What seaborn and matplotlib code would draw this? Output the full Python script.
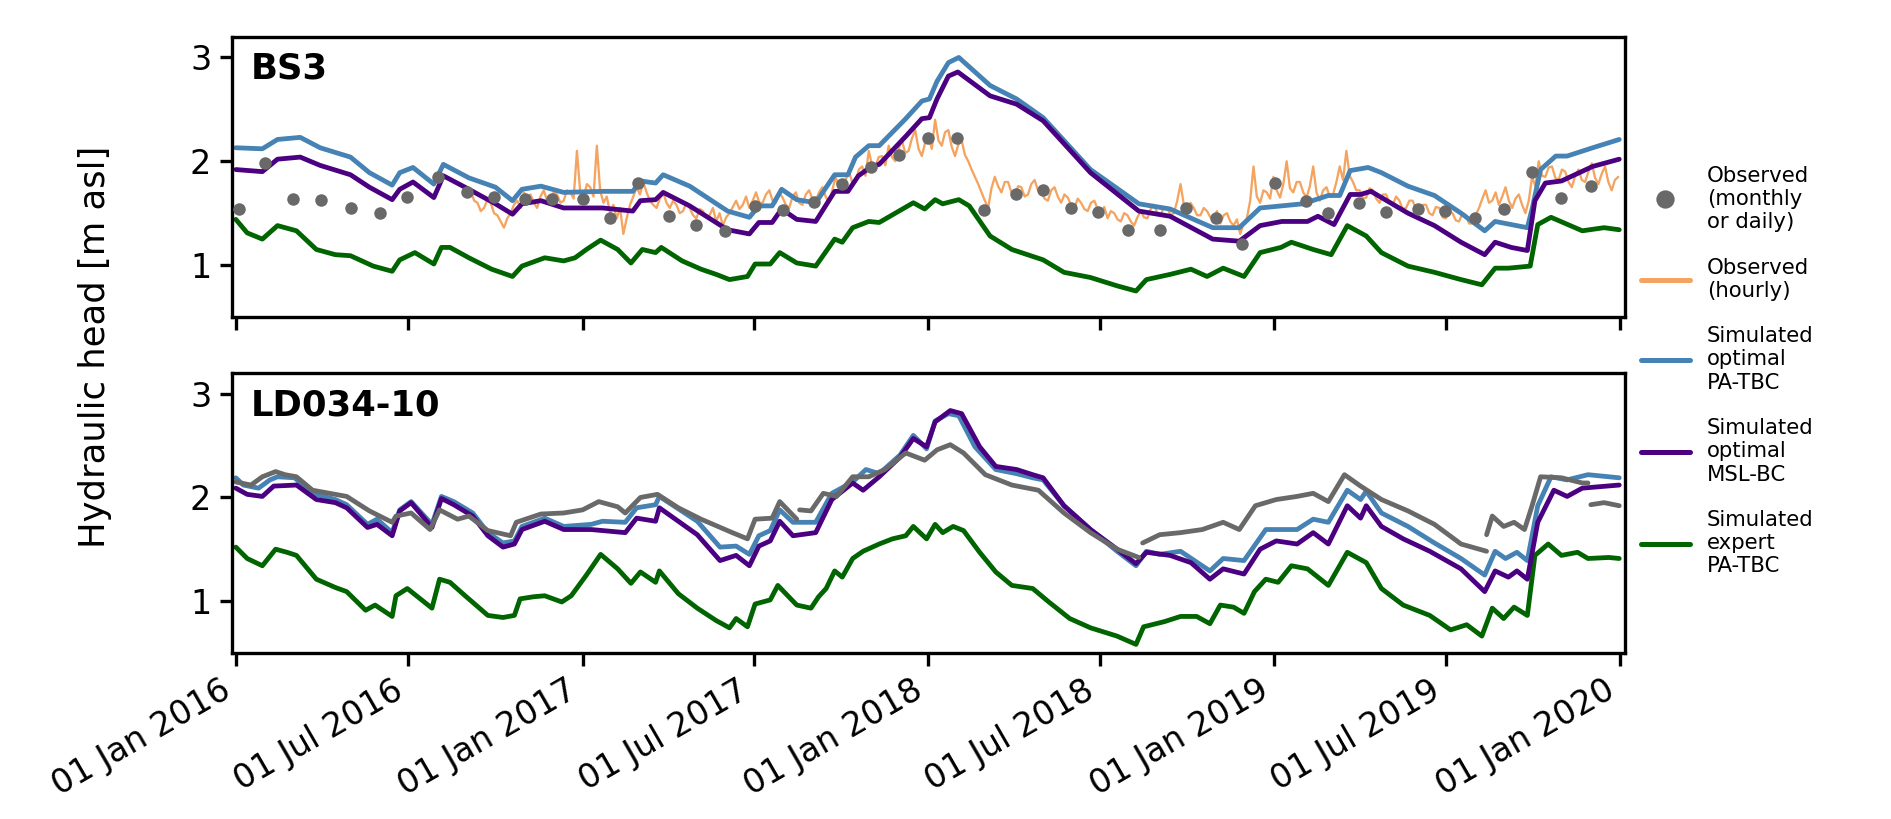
import pandas as pd
import matplotlib
matplotlib.use("Agg")
import matplotlib.pyplot as plt
import matplotlib.dates as mdates
from matplotlib.lines import Line2D
import seaborn as sns

# Day offsets are counted from this date
START = "2016-01-01"

# ---------------- BS3 ----------------
bs3_obs_days = [3, 31, 60, 90, 122, 152, 181, 213, 244, 272, 305, 334, 366, 395, 424, 457,
                486, 516, 548, 577, 610, 640, 670, 700, 731, 761, 790, 823, 852, 881, 910,
                942, 975, 1003, 1034, 1062, 1097, 1129, 1153, 1185, 1214, 1248, 1276, 1308,
                1338, 1368, 1398, 1430]
bs3_obs_head = [1.54, 1.98, 1.64, 1.63, 1.55, 1.50, 1.66, 1.85, 1.70, 1.66, 1.64, 1.64, 1.64,
                1.45, 1.79, 1.47, 1.39, 1.33, 1.57, 1.53, 1.61, 1.78, 1.94, 2.06, 2.22, 2.22,
                1.53, 1.68, 1.72, 1.55, 1.51, 1.34, 1.34, 1.55, 1.45, 1.20, 1.79, 1.62, 1.50,
                1.60, 1.51, 1.54, 1.52, 1.45, 1.54, 1.90, 1.65, 1.76]

# hourly logger record, resampled to 3.5-day values
bs3_hourly_start = "2016-09-05"
bs3_hourly_head = [
    1.72, 1.62, 1.60, 1.52, 1.55, 1.63, 1.60, 1.50, 1.48, 1.42, 1.36, 1.45, 1.50, 1.58,
    1.62, 1.55, 1.70, 1.64, 1.68, 1.60, 1.55, 1.66, 1.72, 1.62, 1.63, 1.70, 1.68, 1.60,
    1.62, 1.72, 1.70, 1.64, 2.10, 1.70, 1.65, 1.78, 1.75, 1.66, 2.15, 1.72, 1.60, 1.66,
    1.50, 1.58, 1.45, 1.55, 1.30, 1.45, 1.58, 1.66, 1.75, 1.68, 1.80, 1.70, 1.62, 1.58,
    1.55, 1.64, 1.70, 1.60, 1.55, 1.62, 1.58, 1.50, 1.52, 1.60, 1.55, 1.48, 1.45, 1.54,
    1.52, 1.46, 1.48, 1.55, 1.42, 1.50, 1.38, 1.46, 1.50, 1.56, 1.62, 1.54, 1.58, 1.66,
    1.55, 1.62, 1.70, 1.60, 1.60, 1.68, 1.72, 1.62, 1.60, 1.70, 1.65, 1.58, 1.55, 1.66,
    1.70, 1.60, 1.58, 1.68, 1.72, 1.64, 1.62, 1.70,
    1.75, 1.66, 1.60, 1.72, 1.85, 1.74, 1.70, 1.82, 1.90, 1.80, 1.80, 1.92, 1.95, 1.86,
    2.10, 1.96, 1.95, 2.04, 2.05, 1.96, 2.15, 2.04, 2.00, 2.12, 2.20, 2.08, 2.10, 2.22,
    2.30, 2.12, 2.05, 2.18, 2.25, 2.12, 2.40, 2.20, 2.15, 2.28, 2.30, 2.14, 2.05, 2.16,
    2.20, 2.06, 2.00, 1.92, 1.85, 1.78, 1.70, 1.62, 1.55, 1.74, 1.85, 1.76, 1.70, 1.80,
    1.80, 1.70, 1.65, 1.76, 1.75, 1.66, 1.68, 1.78, 1.82, 1.72, 1.70, 1.64, 1.62, 1.72,
    1.75, 1.66, 1.60, 1.68, 1.65, 1.58, 1.55, 1.64, 1.60, 1.54, 1.52, 1.60, 1.62, 1.54,
    1.50, 1.56, 1.45, 1.52, 1.50, 1.44, 1.42, 1.50, 1.48, 1.42, 1.38, 1.46, 1.52, 1.46,
    1.45, 1.54, 1.58, 1.50, 1.48, 1.56, 1.55, 1.48, 1.50, 1.62, 1.78, 1.58, 1.52, 1.60,
    1.55, 1.48, 1.48, 1.55, 1.52, 1.46, 1.45, 1.52, 1.40, 1.48, 1.50, 1.42, 1.38, 1.44,
    1.30, 1.40, 1.45, 1.62, 1.95, 1.66, 1.60, 1.72, 1.70, 1.64, 1.85, 1.72, 1.65, 1.78,
    2.00, 1.74, 1.70, 1.80, 1.80, 1.70, 1.65, 1.76, 1.95, 1.70, 1.62, 1.72, 1.75, 1.66,
    1.68, 1.80, 1.95, 1.82, 2.10, 1.86, 1.80, 1.72, 1.72, 1.64, 1.65, 1.74, 1.72, 1.64,
    1.60, 1.68, 1.68, 1.60, 1.58, 1.66, 1.62, 1.54, 1.55, 1.62, 1.62, 1.54, 1.50, 1.58,
    1.58, 1.50, 1.48, 1.56, 1.55, 1.46, 1.45, 1.52, 1.50, 1.43, 1.42, 1.50, 1.48, 1.40,
    1.40, 1.48, 1.55, 1.64, 1.72, 1.60, 1.62, 1.70, 1.58, 1.66, 1.75, 1.62, 1.55, 1.64,
    1.68, 1.58, 1.50, 1.62, 1.85, 1.76, 2.00, 1.86, 1.85, 1.94, 1.95, 1.84, 1.82, 1.92,
    1.90, 1.80, 1.75, 1.86, 1.92, 1.82, 1.80, 1.90, 1.98, 1.84, 1.78, 1.88, 1.95, 1.80,
    1.72, 1.82, 1.85]

bs3_opt_tbc_days = [0, 28, 44, 68, 89, 121, 141, 165, 173, 187, 209, 219, 246, 274, 292, 302,
                    322, 346, 387, 419, 427, 443, 451, 479, 519, 542, 552, 566, 576, 592, 612,
                    632, 646, 654, 668, 679, 707, 724, 732, 740, 752, 763, 796, 824, 852, 902,
                    953, 986, 1031, 1059, 1081, 1126, 1153, 1165, 1176, 1195, 1209, 1237, 1265,
                    1293, 1318, 1329, 1346, 1363, 1368, 1377, 1393, 1405, 1432, 1460]
bs3_opt_tbc_head = [2.13, 2.12, 2.21, 2.23, 2.13, 2.04, 1.89, 1.77, 1.89, 1.94, 1.78, 1.97,
                    1.84, 1.75, 1.62, 1.73, 1.76, 1.70, 1.71, 1.71, 1.81, 1.79, 1.87, 1.76,
                    1.52, 1.46, 1.57, 1.57, 1.73, 1.63, 1.60, 1.87, 1.87, 2.04, 2.15, 2.15,
                    2.41, 2.58, 2.60, 2.77, 2.95, 3.00, 2.73, 2.60, 2.42, 1.92, 1.59, 1.54,
                    1.36, 1.36, 1.55, 1.59, 1.67, 1.67, 1.91, 1.94, 1.89, 1.76, 1.67, 1.50,
                    1.33, 1.42, 1.39, 1.36, 1.54, 1.92, 2.05, 2.05, 2.13, 2.21]

bs3_opt_msl_days = [0, 28, 44, 68, 89, 121, 141, 165, 173, 187, 209, 219, 246, 274, 292, 302,
                    322, 346, 387, 419, 427, 443, 451, 479, 519, 542, 552, 566, 576, 592, 612,
                    632, 646, 657, 671, 679, 707, 724, 732, 740, 752, 762, 796, 824, 852, 902,
                    953, 986, 1031, 1059, 1081, 1104, 1131, 1142, 1159, 1176, 1187, 1198, 1237,
                    1265, 1293, 1318, 1329, 1346, 1363, 1371, 1382, 1399, 1432, 1460]
bs3_opt_msl_head = [1.92, 1.90, 2.02, 2.04, 1.96, 1.87, 1.75, 1.63, 1.73, 1.80, 1.65, 1.86,
                    1.73, 1.59, 1.49, 1.59, 1.62, 1.55, 1.55, 1.52, 1.62, 1.63, 1.70, 1.57,
                    1.34, 1.30, 1.41, 1.41, 1.54, 1.44, 1.42, 1.71, 1.71, 1.86, 1.95, 1.97,
                    2.24, 2.41, 2.42, 2.60, 2.82, 2.86, 2.63, 2.55, 2.39, 1.89, 1.52, 1.47,
                    1.25, 1.23, 1.38, 1.42, 1.42, 1.47, 1.39, 1.68, 1.68, 1.71, 1.50, 1.38,
                    1.22, 1.10, 1.22, 1.17, 1.14, 1.62, 1.79, 1.81, 1.95, 2.02]

bs3_exp_tbc_days = [0, 12, 28, 44, 64, 85, 105, 121, 145, 165, 173, 189, 209, 217, 226, 246,
                    270, 292, 302, 326, 346, 358, 370, 385, 403, 417, 429, 443, 449, 471, 491,
                    507, 521, 540, 548, 564, 574, 592, 612, 632, 640, 651, 668, 679, 715, 727,
                    738, 746, 763, 774, 796, 819, 852, 874, 902, 930, 950, 961, 986, 1008,
                    1025, 1042, 1064, 1081, 1103, 1114, 1137, 1156, 1173, 1193, 1209, 1237,
                    1265, 1293, 1315, 1329, 1343, 1366, 1374, 1388, 1421, 1444, 1460]
bs3_exp_tbc_head = [1.44, 1.31, 1.25, 1.38, 1.33, 1.15, 1.10, 1.09, 0.99, 0.94, 1.05, 1.12,
                    1.01, 1.17, 1.17, 1.07, 0.96, 0.89, 0.99, 1.07, 1.04, 1.07, 1.15, 1.24,
                    1.15, 1.02, 1.15, 1.12, 1.17, 1.04, 0.96, 0.91, 0.86, 0.89, 1.01, 1.01,
                    1.12, 1.02, 0.99, 1.25, 1.22, 1.36, 1.42, 1.41, 1.60, 1.54, 1.63, 1.59,
                    1.63, 1.57, 1.28, 1.15, 1.05, 0.93, 0.88, 0.80, 0.75, 0.86, 0.91, 0.96,
                    0.89, 0.97, 0.89, 1.12, 1.17, 1.22, 1.15, 1.10, 1.38, 1.28, 1.12, 0.99,
                    0.93, 0.86, 0.81, 0.97, 0.97, 0.99, 1.39, 1.46, 1.33, 1.36, 1.34]

# ---------------- LD034-10 ----------------
# daily record, split where the logger series is interrupted
ld_obs_days = [0, 16, 28, 42, 52, 64, 81, 105, 117, 141, 165, 169, 185, 205, 215, 234, 246,
               266, 290, 296, 322, 346, 366, 383, 403, 411, 427, 445, 467, 491, 524, 540, 548,
               566, 574, 592,
               595, 607, 620, 634, 651, 668, 685, 707, 727, 740, 754, 768, 791, 819, 847, 874,
               902, 930, 953,
               957, 975, 997, 1020, 1042, 1059, 1076, 1098, 1120, 1137, 1153, 1170, 1187,
               1209, 1237, 1265, 1293, 1320,
               1320, 1326, 1338, 1349, 1360, 1368, 1377, 1399, 1421, 1427,
               1430, 1444, 1460]
ld_obs_head = [2.15, 2.12, 2.20, 2.25, 2.22, 2.20, 2.07, 2.03, 2.01, 1.87, 1.76, 1.82, 1.85,
               1.69, 1.88, 1.79, 1.82, 1.68, 1.63, 1.76, 1.84, 1.85, 1.88, 1.96, 1.91, 1.85,
               2.00, 2.03, 1.90, 1.79, 1.66, 1.60, 1.79, 1.80, 1.96, 1.79,
               1.88, 1.87, 2.04, 2.01, 2.20, 2.20, 2.27, 2.43, 2.36, 2.46, 2.51, 2.43, 2.22,
               2.12, 2.07, 1.85, 1.66, 1.50, 1.42,
               1.56, 1.64, 1.66, 1.69, 1.76, 1.69, 1.92, 1.98, 2.01, 2.04, 1.96, 2.22, 2.11,
               1.98, 1.87, 1.74, 1.55, 1.48,
               1.64, 1.82, 1.72, 1.76, 1.69, 1.92, 2.20, 2.19, 2.14, 2.14,
               1.93, 1.95, 1.92]
ld_obs_segment = [0] * 36 + [1] * 19 + [2] * 18 + [3] * 10 + [4] * 3

ld_opt_tbc_days = [0, 8, 24, 36, 44, 62, 81, 105, 117, 139, 149, 165, 173, 185, 207, 217, 230,
                   250, 266, 282, 294, 302, 326, 346, 375, 387, 411, 423, 443, 447, 487, 511,
                   528, 542, 552, 564, 574, 588, 612, 629, 651, 665, 679, 701, 715, 729, 738,
                   752, 763, 780, 802, 824, 841, 852, 874, 902, 930, 950, 961, 975, 997, 1028,
                   1042, 1064, 1087, 1120, 1137, 1153, 1173, 1187, 1193, 1209, 1237, 1265,
                   1293, 1318, 1329, 1340, 1352, 1363, 1374, 1388, 1405, 1427, 1460]
ld_opt_tbc_head = [2.19, 2.12, 2.09, 2.17, 2.20, 2.19, 2.04, 1.98, 1.93, 1.74, 1.79, 1.66,
                   1.88, 1.96, 1.74, 2.01, 1.96, 1.85, 1.66, 1.56, 1.58, 1.72, 1.80, 1.72,
                   1.74, 1.77, 1.76, 1.90, 1.93, 2.01, 1.77, 1.52, 1.53, 1.45, 1.63, 1.68,
                   1.88, 1.76, 1.76, 2.04, 2.15, 2.27, 2.23, 2.41, 2.60, 2.47, 2.74, 2.81,
                   2.79, 2.49, 2.27, 2.23, 2.19, 2.17, 1.92, 1.69, 1.48, 1.34, 1.48, 1.45,
                   1.48, 1.29, 1.41, 1.39, 1.69, 1.69, 1.79, 1.76, 2.07, 1.98, 2.06, 1.85,
                   1.72, 1.56, 1.41, 1.25, 1.48, 1.41, 1.47, 1.39, 1.92, 2.20, 2.17, 2.22,
                   2.19]

ld_opt_msl_days = [0, 12, 28, 40, 64, 85, 105, 117, 139, 149, 165, 173, 185, 207, 217, 230,
                   250, 266, 282, 294, 302, 326, 346, 375, 387, 411, 423, 443, 447, 487, 511,
                   528, 542, 552, 564, 574, 588, 612, 629, 651, 662, 679, 701, 715, 729, 738,
                   754, 766, 785, 802, 824, 841, 852, 874, 902, 930, 950, 961, 986, 1008, 1028,
                   1042, 1064, 1081, 1098, 1120, 1137, 1153, 1173, 1187, 1193, 1209, 1232,
                   1260, 1293, 1318, 1329, 1343, 1352, 1363, 1374, 1391, 1405, 1421, 1460]
ld_opt_msl_head = [2.09, 2.03, 2.01, 2.11, 2.12, 1.98, 1.95, 1.90, 1.71, 1.74, 1.63, 1.87,
                   1.95, 1.71, 1.99, 1.93, 1.82, 1.63, 1.52, 1.55, 1.69, 1.77, 1.69, 1.69,
                   1.68, 1.66, 1.80, 1.77, 1.90, 1.64, 1.39, 1.44, 1.34, 1.53, 1.58, 1.77,
                   1.63, 1.66, 1.98, 2.14, 2.07, 2.20, 2.39, 2.57, 2.49, 2.73, 2.84, 2.81,
                   2.49, 2.30, 2.27, 2.22, 2.19, 1.92, 1.69, 1.50, 1.36, 1.47, 1.44, 1.37,
                   1.21, 1.31, 1.26, 1.50, 1.58, 1.55, 1.66, 1.55, 1.92, 1.80, 1.92, 1.72,
                   1.60, 1.48, 1.31, 1.09, 1.29, 1.23, 1.29, 1.21, 1.76, 2.07, 2.01, 2.09,
                   2.12]

ld_exp_tbc_days = [0, 12, 28, 42, 54, 64, 85, 105, 117, 137, 147, 165, 169, 181, 207, 215, 226,
                   242, 266, 282, 294, 300, 314, 326, 344, 354, 370, 385, 403, 417, 427, 443,
                   447, 467, 487, 507, 521, 528, 540, 548, 564, 572, 592, 607, 615, 623, 632,
                   640, 651, 662, 679, 693, 707, 715, 729, 738, 746, 757, 768, 785, 802, 819,
                   841, 858, 880, 902, 930, 950, 958, 980, 997, 1014, 1028, 1039, 1053, 1064,
                   1075, 1087, 1100, 1114, 1131, 1153, 1173, 1193, 1209, 1232, 1260, 1282,
                   1299, 1315, 1326, 1338, 1349, 1363, 1371, 1385, 1399, 1416, 1427, 1449, 1460]
ld_exp_tbc_head = [1.52, 1.41, 1.34, 1.50, 1.47, 1.44, 1.21, 1.13, 1.09, 0.91, 0.96, 0.85,
                   1.05, 1.12, 0.93, 1.21, 1.18, 1.05, 0.86, 0.84, 0.86, 1.02, 1.04, 1.05,
                   0.99, 1.05, 1.25, 1.45, 1.31, 1.17, 1.28, 1.18, 1.29, 1.07, 0.93, 0.81,
                   0.74, 0.83, 0.75, 0.97, 1.01, 1.15, 0.96, 0.93, 1.04, 1.12, 1.29, 1.23,
                   1.41, 1.48, 1.55, 1.60, 1.63, 1.72, 1.60, 1.74, 1.66, 1.72, 1.68, 1.47,
                   1.28, 1.15, 1.12, 0.99, 0.83, 0.74, 0.66, 0.58, 0.75, 0.80, 0.85, 0.85,
                   0.78, 0.96, 0.94, 0.88, 1.09, 1.21, 1.18, 1.34, 1.31, 1.15, 1.47, 1.37,
                   1.12, 0.96, 0.86, 0.72, 0.77, 0.66, 0.93, 0.83, 0.94, 0.86, 1.44, 1.55,
                   1.44, 1.47, 1.41, 1.42, 1.41]

# ---------------- styling ----------------
C_OBS = "#696969"
C_HOURLY = "#F4A460"
C_OPT_TBC = "#4682B4"
C_OPT_MSL = "#4B0082"
C_EXP_TBC = "#006400"

legend_labels = ["Observed\n(monthly\nor daily)", "Observed\n(hourly)",
                 "Simulated\noptimal\nPA-TBC", "Simulated\noptimal\nMSL-BC",
                 "Simulated\nexpert\nPA-TBC"]

sns.set_style("ticks")
plt.rcParams["font.family"] = ["DejaVu Sans"]
plt.rcParams.update({
    "axes.linewidth": 0.8,
    "xtick.major.width": 0.8,
    "ytick.major.width": 0.8,
    "xtick.major.size": 3.0,
    "ytick.major.size": 3.0,
    "text.color": "black",
    "axes.labelcolor": "black",
    "axes.edgecolor": "black",
    "xtick.color": "black",
    "ytick.color": "black",
})


def series(days, head, segment=None):
    df = pd.DataFrame({
        "date": pd.to_datetime(START) + pd.to_timedelta(days, unit="D"),
        "head": head,
    })
    df["seg"] = segment if segment is not None else 0
    return df


def sim_line(ax, days, head, color):
    sns.lineplot(data=series(days, head), x="date", y="head", color=color,
                 linewidth=1.15, ax=ax, legend=False, estimator=None)


fig = plt.figure(figsize=(1891 / 300, 819 / 300), dpi=300)
ax1 = fig.add_axes([0.1227, 0.6130, 0.7366, 0.3422])
ax2 = fig.add_axes([0.1227, 0.2031, 0.7366, 0.3411], sharex=ax1)

# BS3 panel
hourly = pd.DataFrame({
    "date": pd.date_range(bs3_hourly_start, periods=len(bs3_hourly_head), freq="84h"),
    "head": bs3_hourly_head,
})
sns.lineplot(data=hourly, x="date", y="head", color=C_HOURLY, linewidth=0.55,
             ax=ax1, legend=False, estimator=None)
sim_line(ax1, bs3_exp_tbc_days, bs3_exp_tbc_head, C_EXP_TBC)
sim_line(ax1, bs3_opt_tbc_days, bs3_opt_tbc_head, C_OPT_TBC)
sim_line(ax1, bs3_opt_msl_days, bs3_opt_msl_head, C_OPT_MSL)
sns.scatterplot(data=series(bs3_obs_days, bs3_obs_head), x="date", y="head",
                color=C_OBS, s=9, linewidth=0, ax=ax1, legend=False, zorder=5)

# LD034-10 panel
sim_line(ax2, ld_exp_tbc_days, ld_exp_tbc_head, C_EXP_TBC)
sim_line(ax2, ld_opt_tbc_days, ld_opt_tbc_head, C_OPT_TBC)
sim_line(ax2, ld_opt_msl_days, ld_opt_msl_head, C_OPT_MSL)
sns.lineplot(data=series(ld_obs_days, ld_obs_head, ld_obs_segment), x="date", y="head",
             units="seg", estimator=None, color=C_OBS, linewidth=1.15, ax=ax2,
             legend=False)

for ax, name in [(ax1, "BS3"), (ax2, "LD034-10")]:
    ax.set_ylim(0.5, 3.2)
    ax.set_yticks([1, 2, 3])
    ax.set_xlabel("")
    ax.set_ylabel("")
    ax.tick_params(axis="both", labelsize=8, pad=2)
    for sp in ax.spines.values():
        sp.set_visible(True)
        sp.set_color("black")
    ax.text(0.0134, 0.85, name, transform=ax.transAxes, fontsize=8.5,
            fontweight="bold", va="baseline", ha="left")

ax2.set_xlim(pd.Timestamp("2015-12-28"), pd.Timestamp("2020-01-06"))
ax2.xaxis.set_major_locator(mdates.MonthLocator(bymonth=[1, 7]))
ax2.xaxis.set_major_formatter(mdates.DateFormatter("%d %b %Y"))
ax1.tick_params(labelbottom=False)
plt.setp(ax2.get_xticklabels(), rotation=30, ha="right")

fig.text(0.050, 0.577, "Hydraulic head [m asl]", rotation=90, fontsize=8.5,
         ha="center", va="center")

handles = [
    Line2D([], [], linestyle="none", marker="o", markersize=4.4,
           markerfacecolor=C_OBS, markeredgecolor="none"),
    Line2D([], [], color=C_HOURLY, linewidth=1.2),
    Line2D([], [], color=C_OPT_TBC, linewidth=1.2),
    Line2D([], [], color=C_OPT_MSL, linewidth=1.2),
    Line2D([], [], color=C_EXP_TBC, linewidth=1.2),
]
fig.legend(handles, legend_labels, loc="center left", bbox_to_anchor=(0.8678, 0.547),
           frameon=False, fontsize=5.1, handlelength=2.3, handletextpad=0.8,
           labelspacing=1.2, borderpad=0, borderaxespad=0)

fig.savefig("out.png", dpi=300)
